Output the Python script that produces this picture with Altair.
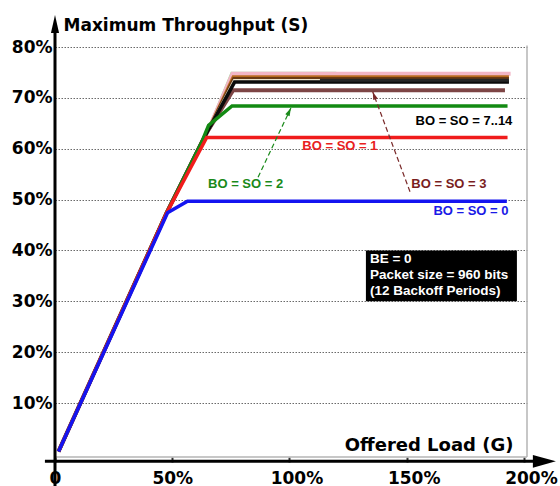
import math
import altair as alt
import pandas as pd

# ---- Offered load G (%) against maximum throughput S (%) per beacon setting ----
BO0_LOAD = [1.5, 48.0, 56.5, 192.7]
BO0_THR = [0.5, 47.4, 49.7, 49.7]

BO1_LOAD = [1.5, 47.5, 64.7, 193.0]
BO1_THR = [0.5, 47.3, 62.2, 62.2]

BO2_LOAD = [1.5, 47.5, 62.3, 65.5, 75.5, 193.0]
BO2_THR = [0.5, 47.3, 61.0, 64.6, 68.4, 68.4]

BO3_LOAD = [1.5, 47.5, 62.3, 65.3, 76.0, 191.9]
BO3_THR = [0.5, 47.3, 61.0, 63.6, 71.5, 71.5]

# BO = SO = 7..14 all saturate between about 73% and 75%
BO14_LOAD = [1.5, 47.5, 62.3, 65.3, 75.4, 120.0]
BO14_THR = [0.5, 47.3, 61.0, 63.6, 74.85, 74.85]
BO13_LOAD = [1.5, 47.5, 62.3, 65.3, 75.7, 194.3]
BO13_THR = [0.5, 47.3, 61.0, 63.6, 74.75, 74.75]
BO12_LOAD = [1.5, 47.5, 62.3, 65.3, 76.0, 193.6]
BO12_THR = [0.5, 47.3, 61.0, 63.6, 74.15, 74.15]
BO11_LOAD = [1.5, 47.5, 62.3, 65.3, 76.2, 193.6]
BO11_THR = [0.5, 47.3, 61.0, 63.6, 73.8, 73.8]
BO10_LOAD = [1.5, 47.5, 62.3, 65.3, 76.4, 193.6]
BO10_THR = [0.5, 47.3, 61.0, 63.6, 73.45, 73.45]
BO8_LOAD = [1.5, 47.5, 62.3, 65.3, 76.6, 193.6]
BO8_THR = [0.5, 47.3, 61.0, 63.6, 73.1, 73.1]
BO9_LOAD = [113.0, 193.6]
BO9_THR = [73.45, 73.45]

# drawing order: first listed is drawn underneath
SERIES = [
    ("BO = SO = 3", BO3_LOAD, BO3_THR, "#7d4545", 4.0),
    ("BO = SO = 14", BO14_LOAD, BO14_THR, "#a6dca0", 3.0),
    ("BO = SO = 13", BO13_LOAD, BO13_THR, "#f2b5c5", 4.0),
    ("BO = SO = 12", BO12_LOAD, BO12_THR, "#b8691f", 3.0),
    ("BO = SO = 11", BO11_LOAD, BO11_THR, "#6b3912", 3.0),
    ("BO = SO = 10", BO10_LOAD, BO10_THR, "#ece3cc", 2.5),
    ("BO = SO = 8", BO8_LOAD, BO8_THR, "#0a0a0a", 3.5),
    ("BO = SO = 9", BO9_LOAD, BO9_THR, "#262626", 3.0),
    ("BO = SO = 2", BO2_LOAD, BO2_THR, "#138a13", 3.5),
    ("BO = SO = 1", BO1_LOAD, BO1_THR, "#f01c1c", 3.5),
    ("BO = SO = 0", BO0_LOAD, BO0_THR, "#1414f0", 3.5),
]

# curve labels: text, load, throughput, colour
LABEL_TEXT = ["BO = SO = 7..14", "BO = SO = 1", "BO = SO = 2", "BO = SO = 3", "BO = SO = 0"]
LABEL_X = [174.4, 121.5, 81.3, 168.0, 177.4]
LABEL_Y = [64.6, 59.75, 52.2, 52.2, 46.9]
LABEL_COLOR = ["#000000", "#e82020", "#1a8a1a", "#7a1e1e", "#1a1ae6"]

NOTE_LINES = ["BE = 0", "Packet size = 960 bits", "(12 Backoff Periods)"]
NOTE_Y = [37.55, 34.4, 31.25]

X_TICKS = [0, 50, 100, 150, 200]
Y_TICKS = [10, 20, 30, 40, 50, 60, 70, 80]

# ---- layout ----
WIDTH, HEIGHT = 472, 410
X_MIN, X_MAX = 0.0, 201.3
Y_MIN, Y_MAX = -0.6, 80.0
PX_X = WIDTH / (X_MAX - X_MIN)
PX_Y = HEIGHT / (Y_MAX - Y_MIN)

AXIS_FONT = "DejaVu Sans"
NOTE_FONT = "Liberation Sans"

XS = alt.Scale(domain=[X_MIN, X_MAX], nice=False, zero=False)
YS = alt.Scale(domain=[Y_MIN, Y_MAX], nice=False, zero=False)

X_AXIS = alt.Axis(
    values=X_TICKS,
    labelExpr="datum.value == 0 ? '0' : datum.value + '%'",
    labelFont=AXIS_FONT, labelFontWeight="bold", labelFontSize=17, labelColor="black",
    labelOffset={"condition": {"test": "datum.value >= 100", "value": 7}, "value": 0},
    labelPadding=8, labelFlush=False, labelOverlap=False,
    ticks=True, tickSize=5, tickWidth=2, tickColor="#333333",
    domain=False, grid=False,
    title="Offered Load (G)", titleFont=AXIS_FONT, titleFontWeight="bold",
    titleFontSize=18, titleColor="black", titleAlign="right",
    titleBaseline="alphabetic", titleAngle=0, titleX=458, titleY=-7,
)
Y_AXIS = alt.Axis(
    values=Y_TICKS,
    labelExpr="datum.value + '%'",
    labelFont=AXIS_FONT, labelFontWeight="bold", labelFontSize=17, labelColor="black",
    labelPadding=3, labelFlush=False, labelOverlap=False,
    ticks=False, domain=False,
    grid=True, gridDash=[1.5, 1.5], gridColor="#6a6a6a", gridWidth=1,
    title="Maximum Throughput (S)", titleFont=AXIS_FONT, titleFontWeight="bold",
    titleFontSize=17, titleColor="black", titleAlign="left",
    titleBaseline="alphabetic", titleAngle=0, titleX=8, titleY=-17,
)


def xenc(field):
    return alt.X(field, type="quantitative", scale=XS, axis=X_AXIS)


def yenc(field):
    return alt.Y(field, type="quantitative", scale=YS, axis=Y_AXIS)


layers = []

# plot frame (right and bottom edges)
frame = pd.DataFrame({"x": [X_MAX, X_MIN], "x2": [X_MAX, X_MAX],
                      "y": [Y_MIN, Y_MIN], "y2": [Y_MAX + 0.3, Y_MIN]})
layers.append(
    alt.Chart(frame).mark_rule(color="#b4b4b4", strokeWidth=1.5).encode(
        x=xenc("x"), x2="x2", y=yenc("y"), y2="y2")
)

# curves
for name, load, thr, color, width in SERIES:
    df = pd.DataFrame({"x": load, "y": thr, "i": list(range(len(load))), "s": name})
    layers.append(
        alt.Chart(df).mark_line(color=color, strokeWidth=width, strokeJoin="miter").encode(
            x=xenc("x"), y=yenc("y"), order="i:Q")
    )

# black axis arrows
axes = pd.DataFrame({"x": [0.0, -4.3], "x2": [0.0, 205.0],
                     "y": [-6.4, -1.45], "y2": [84.0, -1.45]})
layers.append(
    alt.Chart(axes).mark_rule(color="black", strokeWidth=3).encode(
        x=xenc("x"), x2="x2", y=yenc("y"), y2="y2")
)
heads = pd.DataFrame({"x": [0.0], "y": [84.52]})
layers.append(
    alt.Chart(heads).mark_point(shape="M0,-1L0.45,1L-0.45,1Z", size=324, filled=True,
                                color="black", opacity=1).encode(x=xenc("x"), y=yenc("y"))
)
heads_x = pd.DataFrame({"x": [208.7], "y": [-1.45]})
layers.append(
    alt.Chart(heads_x).mark_point(shape="M1,0L-1,-0.55L-1,0.55Z", size=529, filled=True,
                                  color="black", opacity=1).encode(x=xenc("x"), y=yenc("y"))
)

# dashed pointers from the labels to their curves
POINTERS = [
    ((86.6, 54.4), (100.6, 68.0), "#1a8a1a"),
    ((151.4, 51.55), (135.5, 71.2), "#7a2a2a"),
]
for (x0, y0), (x1, y1), color in POINTERS:
    seg = pd.DataFrame({"x": [x0], "y": [y0], "x2": [x1], "y2": [y1]})
    layers.append(
        alt.Chart(seg).mark_rule(color=color, strokeWidth=1.2, strokeDash=[5, 3]).encode(
            x=xenc("x"), y=yenc("y"), x2="x2", y2="y2")
    )
    dxp = (x1 - x0) * PX_X
    dyp = -(y1 - y0) * PX_Y
    length = math.hypot(dxp, dyp)
    ux, uy = dxp / length, dyp / length
    ang = math.degrees(math.atan2(dxp, -dyp)) % 360
    tip = pd.DataFrame({"x": [x1 - 4 * ux / PX_X], "y": [y1 + 4 * uy / PX_Y], "a": [ang]})
    layers.append(
        alt.Chart(tip).mark_point(shape="M0,-1L0.6,1L-0.6,1Z", size=64, filled=True,
                                  color=color, opacity=1).encode(
            x=xenc("x"), y=yenc("y"), angle=alt.Angle("a:Q", scale=None))
    )

# curve labels
labels = pd.DataFrame({"t": LABEL_TEXT, "x": LABEL_X, "y": LABEL_Y, "c": LABEL_COLOR})
layers.append(
    alt.Chart(labels).mark_text(font=NOTE_FONT, fontWeight="bold", fontSize=13,
                                align="center", baseline="alphabetic").encode(
        x=xenc("x"), y=yenc("y"), text="t:N", color=alt.Color("c:N", scale=None))
)

# parameter box
box = pd.DataFrame({"x": [132.6], "x2": [197.0], "y": [30.0], "y2": [40.0]})
layers.append(
    alt.Chart(box).mark_rect(color="black").encode(
        x=xenc("x"), x2="x2", y=yenc("y"), y2="y2")
)
note = pd.DataFrame({"t": NOTE_LINES, "x": [134.3] * 3, "y": NOTE_Y})
layers.append(
    alt.Chart(note).mark_text(font=NOTE_FONT, fontWeight="bold", fontSize=13.5, color="white",
                              align="left", baseline="alphabetic").encode(
        x=xenc("x"), y=yenc("y"), text="t:N")
)

chart = alt.layer(*layers).properties(
    width=WIDTH, height=HEIGHT,
    autosize=alt.AutoSizeParams(type="none"),
    padding={"left": 55, "top": 47, "right": 33, "bottom": 29},
    background="white",
).configure_view(stroke=None)

chart.save("out.html", embed_options={"renderer": "svg", "actions": False})
